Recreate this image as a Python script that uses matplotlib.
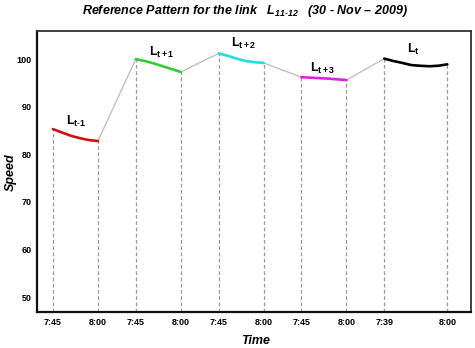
import matplotlib
matplotlib.use("Agg")
import matplotlib.pyplot as plt
import numpy as np

plt.rcParams["font.family"] = ["Liberation Sans", "DejaVu Sans"]
plt.rcParams["mathtext.fontset"] = "custom"
plt.rcParams["mathtext.rm"] = "Liberation Sans"
plt.rcParams["mathtext.bf"] = "Liberation Sans:bold"
plt.rcParams["mathtext.it"] = "Liberation Sans:italic"
plt.rcParams["mathtext.bfit"] = "Liberation Sans:bold:italic"

# ---- data ----
seg_labels = [r"$\mathbf{L}_{\mathbf{t\text{-}1}}$", r"$\mathbf{L}_{\mathbf{t+1}}$",
              r"$\mathbf{L}_{\mathbf{t+2}}$", r"$\mathbf{L}_{\mathbf{t+3}}$",
              r"$\mathbf{L}_{\mathbf{t}}$"]
seg_colors = ["#d01010", "#33cc33", "#22dddd", "#dd22dd", "#000000"]
start_labels = ["7:45", "7:45", "7:45", "7:45", "7:39"]
end_labels = ["8:00", "8:00", "8:00", "8:00", "8:00"]
seg_minutes = [15, 15, 15, 15, 21]
sample_step = 3  # minutes between readings
speed_t_minus1 = [85.3, 84.6, 83.9, 83.4, 83.0, 82.8]
speed_t_plus1 = [100.0, 99.6, 99.1, 98.5, 97.9, 97.3]
speed_t_plus2 = [101.2, 100.7, 100.1, 99.6, 99.35, 99.2]
speed_t_plus3 = [96.2, 96.1, 96.0, 95.9, 95.75, 95.6]
speed_t = [100.1, 99.6, 99.2, 98.75, 98.6, 98.5, 98.6, 98.9]
series = [speed_t_minus1, speed_t_plus1, speed_t_plus2, speed_t_plus3, speed_t]
yticks = [50, 60, 70, 80, 90, 100]

# ---- layout ----
gap = 12.6
W, H = 475, 348
fig = plt.figure(figsize=(W / 100, H / 100), dpi=100)
ax = fig.add_axes([37 / W, 1 - 312 / H, (471 - 37) / W, (312 - 31) / H])
ymin, ymax = 46.9, 105.9

label_offsets = [(4.3, 1.6), (4.3, 1.5), (4.0, 2.1), (3.0, 1.8), (7.5, 2.0)]

xticks, xticklabels = [], []
offset = 0.0
prev_end = None
for i, vals in enumerate(series):
    x = offset + np.arange(len(vals)) * sample_step
    ax.plot(x, vals, color=seg_colors[i], lw=1.9, solid_capstyle="round",
            solid_joinstyle="round", zorder=3)
    if prev_end is not None:
        ax.plot([prev_end[0], x[0]], [prev_end[1], vals[0]], color="#bbbbbb", lw=0.9, zorder=2)
    for xv, yv in [(x[0], vals[0]), (x[-1], vals[-1])]:
        ax.plot([xv, xv], [ymin, yv], color="#999999", lw=0.9, ls=(0, (3, 2)), zorder=1)
    xticks += [x[0], x[-1]]
    xticklabels += [start_labels[i], end_labels[i]]
    dx, dy = label_offsets[i]
    ax.text(x[0] + dx, max(vals[0], vals[-1]) + dy, seg_labels[i], fontsize=9,
            ha="left", va="center", color="black")
    prev_end = (x[-1], vals[-1])
    offset = x[-1] + gap

ax.set_xlim(-5.3, 139.3)
ax.set_ylim(ymin, ymax)
ax.set_xticks(xticks)
ax.set_xticklabels(xticklabels, fontsize=6.5, fontweight="bold")
ax.set_yticks(yticks)
ax.set_yticklabels([str(v) for v in yticks], fontsize=6.5, fontweight="bold")
ax.tick_params(length=0, pad=4.5)
ax.tick_params(axis="y", pad=4)
for s in ["top", "right"]:
    ax.spines[s].set_color("#333333")
    ax.spines[s].set_linewidth(1.3)
for s in ["left", "bottom"]:
    ax.spines[s].set_color("#111111")
    ax.spines[s].set_linewidth(1.6)

fig.text(11 / W, 1 - 172 / H, "Speed", rotation=90, ha="center", va="center",
         fontsize=9, fontweight="bold", fontstyle="italic")
fig.text(256 / W, 1 - 341 / H, "Time", ha="center", va="center",
         fontsize=9, fontweight="bold", fontstyle="italic")
fig.text(245 / W, 1 - 11 / H,
         r"Reference Pattern for the link   $\mathbfit{L}_{\mathbfit{11\text{-}12}}$   (30 - Nov – 2009)",
         ha="center", va="center", fontsize=9, fontweight="bold", fontstyle="italic")

fig.savefig("out.png", dpi=100)
